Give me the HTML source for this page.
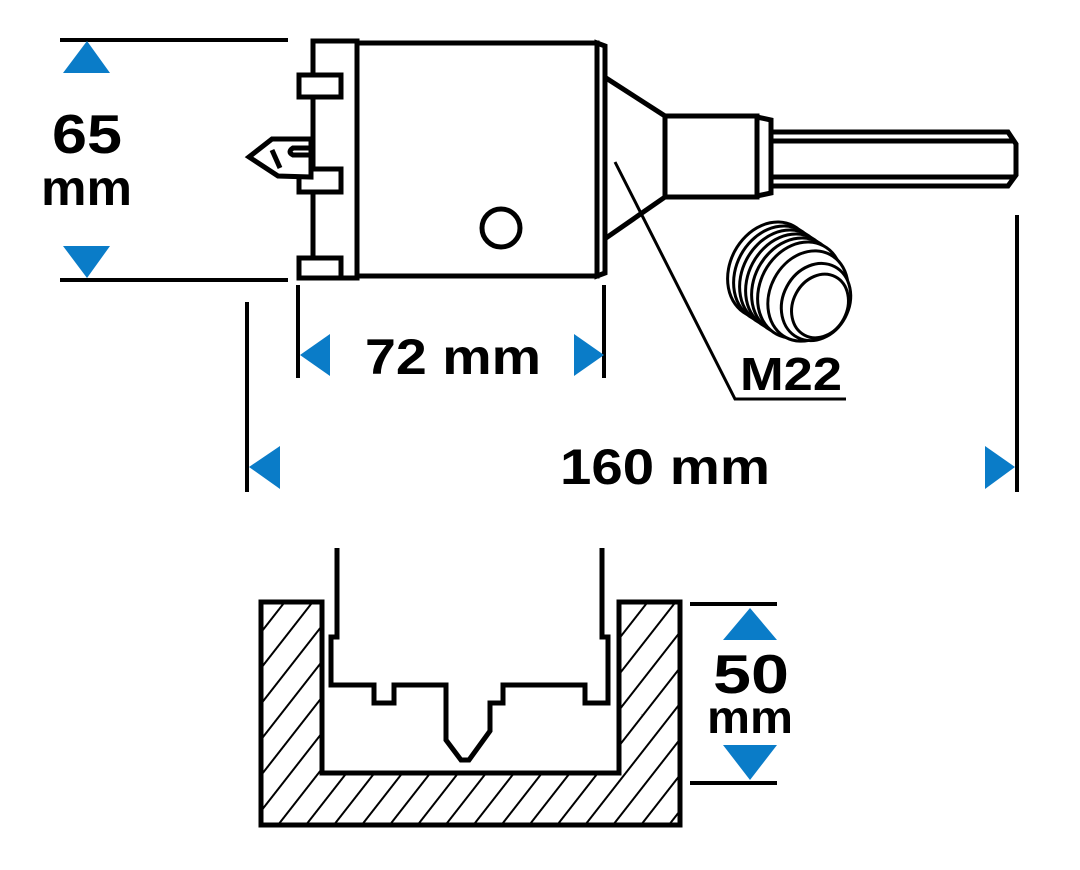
<!DOCTYPE html>
<html><head><meta charset="utf-8"><style>html,body{margin:0;padding:0;background:#fff}svg{display:block}</style></head><body>
<svg width="1080" height="870" viewBox="0 0 1080 870" xmlns="http://www.w3.org/2000/svg">
<defs>
<pattern id="h" patternUnits="userSpaceOnUse" width="22" height="22" patternTransform="rotate(38)">
<line x1="0" y1="0" x2="0" y2="22" stroke="#000" stroke-width="4"/>
</pattern>
</defs>
<g fill="none" stroke="#000" stroke-width="5" stroke-linejoin="miter">
<line x1="60" y1="40" x2="288" y2="40" stroke-width="4"/>
<line x1="60" y1="280" x2="288" y2="280" stroke-width="4"/>
<line x1="298" y1="285" x2="298" y2="378" stroke-width="4"/>
<line x1="604" y1="285" x2="604" y2="378" stroke-width="4"/>
<line x1="247" y1="302" x2="247" y2="492" stroke-width="4"/>
<line x1="1017" y1="215" x2="1017" y2="492" stroke-width="4"/>
<rect x="313" y="41" width="44" height="237"/>
<rect x="357" y="43" width="240" height="233"/>
<polygon points="597,43 605,46 605,273 597,276"/>
<rect x="299" y="75" width="42" height="22" fill="#fff"/>
<rect x="299" y="169" width="42" height="23" fill="#fff"/>
<rect x="299" y="258" width="42" height="20" fill="#fff"/>
<circle cx="501" cy="228" r="19"/>
<polygon points="272,139 311,139 311,177 278,176 249,157" fill="#fff"/>
<path d="M311,148 L293,148 Q287,152 293,155 L311,155"/>
<path d="M272,150 L280,168"/>
<line x1="606" y1="78" x2="665" y2="116"/>
<line x1="606" y1="238" x2="665" y2="197"/>
<rect x="665" y="116" width="92" height="81"/>
<polygon points="757,117 771,120 771,193 757,196"/>
<polygon points="771,132 1008,132 1016,144 1016,175 1008,186 771,186"/>
<line x1="771" y1="141" x2="1014" y2="141"/>
<line x1="771" y1="177" x2="1014" y2="177"/>
<polyline points="615,162 735,399 846,399" stroke-width="3"/>
<g stroke-width="3">
<ellipse cx="770" cy="270" rx="40" ry="50" transform="rotate(28 770 270)" fill="#fff"/>
<ellipse cx="776" cy="274" rx="40" ry="50" transform="rotate(28 776 274)" fill="#fff"/>
<ellipse cx="782" cy="278" rx="40" ry="50" transform="rotate(28 782 278)" fill="#fff"/>
<ellipse cx="788" cy="282" rx="40" ry="50" transform="rotate(28 788 282)" fill="#fff"/>
<ellipse cx="794" cy="286" rx="40" ry="50" transform="rotate(28 794 286)" fill="#fff"/>
<ellipse cx="800" cy="290" rx="40" ry="50" transform="rotate(28 800 290)" fill="#fff"/>
<ellipse cx="808" cy="296" rx="38" ry="47" transform="rotate(28 808 296)" fill="#fff"/>
<ellipse cx="816" cy="302" rx="33" ry="40" transform="rotate(28 816 302)" fill="#fff"/>
<ellipse cx="820" cy="306" rx="27" ry="33" transform="rotate(28 820 306)" fill="#fff"/>
</g>
<path d="M261,602 L322,602 L322,773 L619,773 L619,602 L680,602 L680,825 L261,825 Z" fill="url(#h)"/>
<polyline points="337,548 337,637 331,637 331,685 374,685 374,703 394,703 394,685 446,685 446,740 461,760 469,760 490,731 490,703 503,703 503,685 585,685 585,703 608,703 608,637 602,637 602,548"/>
<line x1="690" y1="604" x2="777" y2="604" stroke-width="4"/>
<line x1="690" y1="783" x2="777" y2="783" stroke-width="4"/>
</g>
<g fill="#0a7cc8">
<polygon points="87,41 63,73 110,73"/>
<polygon points="63,246 110,246 87,278"/>
<polygon points="300,355 330,334 330,376"/>
<polygon points="604,355 574,334 574,376"/>
<polygon points="249,467 280,446 280,489"/>
<polygon points="1015,467 985,446 985,489"/>
<polygon points="750,608 723,640 777,640"/>
<polygon points="723,745 777,745 750,780"/>
</g>
<g font-family="Liberation Sans, sans-serif" font-weight="bold" fill="#000" lengthAdjust="spacingAndGlyphs">
<text x="52" y="153" font-size="55" textLength="70" lengthAdjust="spacingAndGlyphs">65</text>
<text x="41" y="205" font-size="50" textLength="91" lengthAdjust="spacingAndGlyphs">mm</text>
<text x="365" y="374" font-size="50" textLength="176" lengthAdjust="spacingAndGlyphs">72 mm</text>
<text x="560" y="484" font-size="50" textLength="210" lengthAdjust="spacingAndGlyphs">160 mm</text>
<text x="740" y="390" font-size="46" textLength="102" lengthAdjust="spacingAndGlyphs">M22</text>
<text x="713" y="693" font-size="55" textLength="76" lengthAdjust="spacingAndGlyphs">50</text>
<text x="707" y="733" font-size="46" textLength="86" lengthAdjust="spacingAndGlyphs">mm</text>
</g>
</svg>
</body></html>
